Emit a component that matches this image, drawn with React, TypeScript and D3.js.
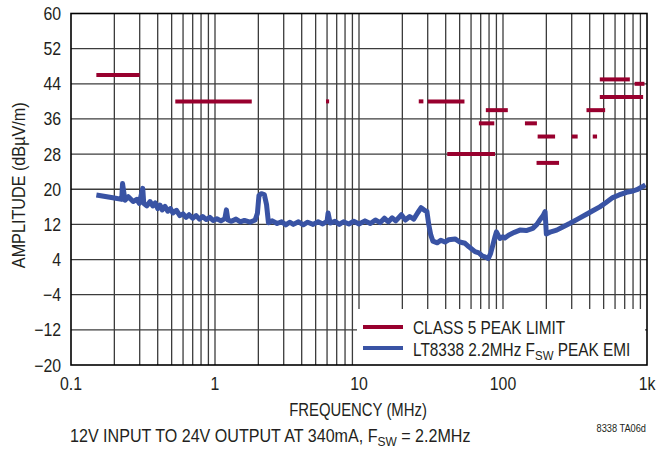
import React from "react";
import * as d3 from "d3";

// Class 5 peak limit segments (MHz, dBµV/m)
const limitStart = [0.15, 0.53, 5.9, 26, 30, 41, 68, 76, 142, 174, 171, 300, 420, 380, 470, 470, 820];
const limitEnd = [0.3, 1.8, 6.2, 28, 54, 88, 87, 108, 172, 230, 245, 330, 450, 512, 760, 940, 960];
const limitLevel = [46, 40, 40, 40, 40, 28, 35, 38, 35, 32, 26, 32, 32, 38, 45, 41, 44];

// LT8338 peak EMI trace
const emiFreq = [
  0.15, 0.2, 0.225, 0.228, 0.237, 0.25, 0.27, 0.286, 0.298, 0.315, 0.32, 0.336, 0.354, 0.37, 0.385, 0.4,
  0.415, 0.43, 0.45, 0.47, 0.49, 0.51, 0.54, 0.57, 0.6, 0.63, 0.66, 0.7, 0.74, 0.78, 0.82, 0.87, 0.92,
  0.97, 1.03, 1.1, 1.17, 1.2, 1.23, 1.3, 1.4, 1.5, 1.6, 1.75, 1.9, 1.97, 2.02, 2.1, 2.2, 2.28, 2.35, 2.5,
  2.7, 2.9, 3.1, 3.3, 3.5, 3.8, 4.1, 4.4, 4.8, 5.2, 5.6, 6.0, 6.1, 6.3, 6.8, 7.3, 7.8, 8.5, 9.2, 10, 11,
  12, 13, 14, 15, 16, 17, 18, 19.7, 21, 22.5, 24, 25.5, 27, 28.5, 29.6, 30.5, 31.5, 32.6, 35, 37, 39.5,
  42, 46.5, 50, 54.5, 58, 63.9, 68, 72, 75, 79, 82, 85, 88, 90, 95, 100, 103, 110, 120, 131, 145, 161,
  172, 180, 190, 196, 200, 215, 236, 260, 290, 330, 380, 420, 470, 520, 578, 640, 720, 800, 850, 920, 975,
];
const emiAmp = [
  18.7, 18.0, 17.7, 21.3, 17.5, 18.3, 17.2, 17.7, 16.8, 20.2, 16.8, 16.2, 17.2, 16.2, 16.9, 15.6,
  16.4, 15.3, 16.1, 15.0, 15.6, 14.6, 15.2, 14.0, 14.4, 13.6, 14.2, 13.4, 14.0, 13.2, 13.8, 13.1, 13.6,
  12.9, 13.3, 12.8, 13.3, 15.3, 13.0, 12.7, 13.2, 12.6, 12.9, 12.5, 13.0, 14.5, 18.6, 19.0, 18.8, 16.5, 12.4, 12.8,
  12.2, 12.6, 11.9, 12.5, 12.0, 12.6, 11.9, 12.5, 12.0, 12.6, 12.1, 12.7, 14.6, 12.3, 12.7, 12.0, 12.6, 12.1, 12.7, 12.1, 12.8,
  12.2, 13.0, 12.4, 13.4, 12.6, 13.5, 12.8, 14.2, 13.0, 13.8, 13.2, 14.6, 15.8, 15.2, 15.0, 12.0, 9.6, 8.2, 7.8, 8.4, 8.0,
  8.5, 8.7, 8.0, 7.7, 6.9, 5.8, 5.5, 4.8, 4.6, 4.2, 5.4, 7.3, 9.2, 10.3, 8.8, 9.2, 8.9, 9.6, 10.2, 10.7, 10.6, 11.1,
  12.0, 13.0, 14.0, 14.9, 9.8, 10.3, 10.7, 11.4, 12.2, 13.2, 14.3, 15.1, 16.0, 17.0, 18.1, 18.7, 19.3, 19.6, 19.9, 20.5, 21.0,
];

const yTicks = [-20, -12, -4, 4, 12, 20, 28, 36, 44, 52, 60];
const xTicks = [0.1, 1, 10, 100, 1000];
const xTickLabels = ["0.1", "1", "10", "100", "1k"];

const RED = "#98002e";
const BLUE = "#3953a4";
const TXT = "#231f20";
const FONT = "'Liberation Sans', Arial, sans-serif";
const SX = 0.88;

function T(props: {
  x: number;
  y: number;
  size: number;
  anchor?: string;
  rotate?: number;
  sx?: number;
  children: React.ReactNode;
}) {
  const { x, y, size, anchor = "start", rotate = 0, sx = SX, children } = props;
  return (
    <text
      transform={`translate(${x},${y}) rotate(${rotate}) scale(${sx},1)`}
      fontSize={size}
      textAnchor={anchor}
      fill={TXT}
    >
      {children}
    </text>
  );
}

export default function App() {
  const W = 657, H = 449;
  const L = 71, R = 647, Tp = 13.5, B = 365;
  const x = d3.scaleLog().domain([0.1, 1000]).range([L, R]);
  const y = d3.scaleLinear().domain([-20, 60]).range([B, Tp]);

  const vGrid: number[] = [];
  [0.1, 1, 10, 100].forEach((d) => {
    for (let m = 1; m <= 9; m++) {
      const v = d * m;
      if (v > 0.1 && v < 1000) vGrid.push(v);
    }
  });

  const line = d3
    .line<number>()
    .x((_, i) => x(emiFreq[i]))
    .y((v) => y(v))
    .curve(d3.curveLinear);

  return (
    <svg width={W} height={H} style={{ position: "absolute", left: 0, top: 0 }} fontFamily={FONT}>
      <rect x={0} y={0} width={W} height={H} fill="#fff" />
      {/* grid */}
      {vGrid.map((v, i) => (
        <line key={"v" + i} x1={x(v)} x2={x(v)} y1={Tp} y2={B} stroke="#3c3c3c" strokeWidth={1.3} />
      ))}
      {yTicks.slice(1, -1).map((v, i) => (
        <line key={"h" + i} x1={L} x2={R} y1={y(v)} y2={y(v)} stroke="#3c3c3c" strokeWidth={1.3} />
      ))}
      {/* limits */}
      {limitLevel.map((lv, i) => (
        <line
          key={"l" + i}
          x1={x(limitStart[i])}
          x2={x(limitEnd[i])}
          y1={y(lv)}
          y2={y(lv)}
          stroke={RED}
          strokeWidth={4}
        />
      ))}
      {/* EMI trace */}
      <path d={line(emiAmp) || ""} fill="none" stroke={BLUE} strokeWidth={5} strokeLinejoin="round" />
      {/* legend */}
      <rect x={357} y={309} width={288} height={56} fill="#fff" />
      <line x1={363} x2={403} y1={327} y2={327} stroke={RED} strokeWidth={4} />
      <line x1={363} x2={403} y1={348} y2={348} stroke={BLUE} strokeWidth={4} />
      <T x={413} y={334} size={17.5}>CLASS 5 PEAK LIMIT</T>
      <T x={413} y={356} size={17.5}>
        LT8338 2.2MHz F<tspan fontSize={13} dy={4}>SW</tspan>
        <tspan dy={-4}> PEAK EMI</tspan>
      </T>
      {/* border */}
      <rect x={L} y={Tp} width={R - L} height={B - Tp} fill="none" stroke="#000" strokeWidth={1.6} />
      {/* y tick labels */}
      {yTicks.map((v) => (
        <T key={"yt" + v} x={61} y={y(v) + 6.5} size={18} anchor="end">
          {v < 0 ? "\u2212" + Math.abs(v) : String(v)}
        </T>
      ))}
      {/* x tick labels */}
      {xTicks.map((v, i) => (
        <T key={"xt" + v} x={x(v)} y={390} size={18} anchor="middle">
          {xTickLabels[i]}
        </T>
      ))}
      <T x={358} y={416} size={17.5} anchor="middle" sx={0.85}>FREQUENCY (MHz)</T>
      <T x={25} y={(Tp + B) / 2 - 4} size={18} anchor="middle" rotate={-90} sx={0.9}>
        AMPLITUDE (dBµV/m)
      </T>
      <T x={70} y={442} size={17.5} sx={0.92}>
        12V INPUT TO 24V OUTPUT AT 340mA, F<tspan fontSize={13} dy={3.5}>SW</tspan>
        <tspan dy={-3.5}> = 2.2MHz</tspan>
      </T>
      <T x={646} y={432} size={10.5} anchor="end">8338 TA06d</T>
    </svg>
  );
}
